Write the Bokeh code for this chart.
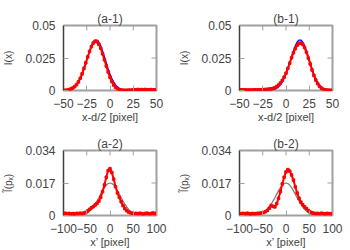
from math import pi
from bokeh.plotting import figure
from bokeh.layouts import gridplot
from bokeh.models import Range1d, FixedTicker
from bokeh.embed import file_html
from bokeh.resources import INLINE

# ---------------- data ----------------
x_top = list(range(-50, 51, 2))
x_bot = list(range(-100, 101, 4))

a1_theory = [0.0001, 0.0001, 0.0003, 0.0006, 0.0010, 0.0017, 0.0028, 0.0043, 0.0064, 0.0092,
             0.0127, 0.0168, 0.0214, 0.0260, 0.0305, 0.0344, 0.0373, 0.0388, 0.0388, 0.0373,
             0.0344, 0.0305, 0.0260, 0.0214, 0.0168, 0.0127, 0.0092, 0.0064, 0.0043, 0.0028,
             0.0017, 0.0010, 0.0006, 0.0003, 0.0001, 0, 0, 0, 0, 0,
             0, 0, 0, 0, 0, 0, 0, 0, 0, 0, 0]
a1_data = [0.0002, 0.0001, 0.0003, 0.0007, 0.0012, 0.0019, 0.0030, 0.0045, 0.0066, 0.0094,
           0.0128, 0.0170, 0.0213, 0.0258, 0.0300, 0.0338, 0.0365, 0.0378, 0.0375, 0.0356,
           0.0325, 0.0282, 0.0236, 0.0188, 0.0143, 0.0102, 0.0068, 0.0042, 0.0024, 0.0012,
           0.0006, 0.0003, 0.0002, 0.0002, 0.0001, 0.0003, 0.0002, 0.0004, 0.0006, 0.0005,
           0.0008, 0.0006, 0.0007, 0.0005, 0.0008, 0.0006, 0.0005, 0.0007, 0.0004, 0.0005, 0.0003]
b1_theory = [0, 0, 0, 0, 0, 0, 0, 0, 0, 0,
             0, 0, 0, 0, 0, 0, 0.0001, 0.0003, 0.0006, 0.0010,
             0.0017, 0.0028, 0.0043, 0.0064, 0.0092, 0.0127, 0.0168, 0.0214, 0.0260, 0.0305,
             0.0344, 0.0373, 0.0388, 0.0388, 0.0373, 0.0344, 0.0305, 0.0260, 0.0214, 0.0168,
             0.0127, 0.0092, 0.0064, 0.0043, 0.0028, 0.0017, 0.0010, 0.0006, 0.0003, 0.0001, 0.0001]
b1_data = [0.0005, 0.0006, 0.0004, 0.0005, 0.0003, 0.0004, 0.0003, 0.0004, 0.0005, 0.0004,
           0.0005, 0.0006, 0.0005, 0.0007, 0.0008, 0.0009, 0.0011, 0.0013, 0.0016, 0.0022,
           0.0030, 0.0042, 0.0058, 0.0078, 0.0103, 0.0133, 0.0170, 0.0210, 0.0252, 0.0290,
           0.0323, 0.0348, 0.0362, 0.0365, 0.0354, 0.0330, 0.0294, 0.0250, 0.0204, 0.0158,
           0.0116, 0.0081, 0.0053, 0.0032, 0.0018, 0.0009, 0.0005, 0.0003, 0.0002, 0.0002, 0.0001]

p_theory = [0, 0, 0, 0, 0, 0, 0, 0, 0.0001, 0.0002,
            0.0004, 0.0006, 0.0010, 0.0015, 0.0023, 0.0032, 0.0045, 0.0059, 0.0075, 0.0093,
            0.0112, 0.0130, 0.0146, 0.0159, 0.0167, 0.0170, 0.0167, 0.0159, 0.0146, 0.0130,
            0.0112, 0.0093, 0.0075, 0.0059, 0.0045, 0.0032, 0.0023, 0.0015, 0.0010, 0.0006,
            0.0004, 0.0002, 0.0001, 0, 0, 0, 0, 0, 0, 0, 0]
a2_data = [0.0010, 0.0012, 0.0008, 0.0011, 0.0009, 0.0010, 0.0008, 0.0011, 0.0010, 0.0012,
           0.0010, 0.0013, 0.0016, 0.0024, 0.0032, 0.0040, 0.0046, 0.0055, 0.0063, 0.0075,
           0.0095, 0.0125, 0.0160, 0.0200, 0.0235, 0.0245, 0.0225, 0.0190, 0.0150, 0.0118,
           0.0095, 0.0072, 0.0052, 0.0036, 0.0025, 0.0018, 0.0014, 0.0012, 0.0010, 0.0011,
           0.0009, 0.0012, 0.0010, 0.0008, 0.0011, 0.0012, 0.0009, 0.0010, 0.0013, 0.0011, 0.0010]
b2_data = [0.0008, 0.0010, 0.0011, 0.0009, 0.0012, 0.0010, 0.0008, 0.0011, 0.0009, 0.0010,
           0.0011, 0.0012, 0.0014, 0.0016, 0.0020, 0.0027, 0.0038, 0.0052, 0.0048, 0.0045,
           0.0062, 0.0090, 0.0125, 0.0165, 0.0200, 0.0228, 0.0240, 0.0232, 0.0212, 0.0185,
           0.0150, 0.0118, 0.0090, 0.0070, 0.0056, 0.0045, 0.0036, 0.0026, 0.0018, 0.0014,
           0.0012, 0.0010, 0.0011, 0.0009, 0.0012, 0.0010, 0.0008, 0.0011, 0.0010, 0.0009, 0.0010]

top_xticks = [-50, -25, 0, 25, 50]
top_yticks = [0, 0.025, 0.05]
top_ylabels = ["0", "0.025", "0.05"]
bot_xticks = [-100, -50, 0, 50, 100]
bot_yticks = [0, 0.017, 0.034]
bot_ylabels = ["0", "0.017", "0.034"]

FONT = "Liberation Sans"
GRAY = "#a0a0a0"


def make(title, xr, yr, xticks, yticks, ylabels, xlabel, ylabel, br):
    p = figure(frame_width=93, frame_height=65, output_backend="svg", toolbar_location=None,
               x_range=Range1d(*xr), y_range=Range1d(*yr),
               min_border_left=62, min_border_right=br, min_border_top=25, min_border_bottom=35)
    p.title.text = title
    p.title.align = "center"
    p.title.text_font = FONT
    p.title.text_font_size = "12px"
    p.title.text_font_style = "normal"
    p.title.standoff = 0
    p.grid.visible = False
    p.outline_line_color = GRAY
    p.outline_line_width = 2
    p.background_fill_color = "white"
    p.border_fill_color = "white"

    p.xaxis.ticker = FixedTicker(ticks=xticks)
    p.yaxis.ticker = FixedTicker(ticks=yticks)
    p.yaxis.major_label_overrides = {t: l for t, l in zip(yticks, ylabels)}
    p.xaxis.axis_label = xlabel
    p.yaxis.axis_label = ylabel
    for ax in (p.xaxis[0], p.yaxis[0]):
        ax.major_tick_in = 5
        ax.major_tick_out = 0
        ax.major_tick_line_color = GRAY
        ax.minor_tick_line_color = None
        ax.major_label_text_font = FONT
        ax.major_label_text_font_size = "12px"
        ax.axis_label_text_font = FONT
        ax.axis_label_text_font_style = "normal"
    p.xaxis.axis_line_color = None
    p.yaxis.axis_line_color = "#404040"
    p.yaxis.axis_line_width = 1
    p.xaxis.axis_label_text_font_size = "11px"
    p.yaxis.axis_label_text_font_size = "10px"
    p.xaxis.major_label_standoff = 8
    p.xaxis.axis_label_standoff = 0
    p.yaxis.major_label_standoff = 8
    p.yaxis.axis_label_standoff = 8
    p.yaxis.major_label_orientation = "horizontal"

    # mirrored tick marks on the top and right edges of the frame
    p.ray(x=xticks, y=[yr[1]] * len(xticks), length=5, length_units="screen",
          angle=-pi / 2, line_color=GRAY, line_width=1)
    p.ray(x=[xr[1]] * len(yticks), y=yticks, length=5, length_units="screen",
          angle=pi, line_color=GRAY, line_width=1)
    return p


def add_series(p, x, theory, data, theory_color):
    p.line(x, theory, line_color=theory_color, line_width=1.3)
    p.line(x, data, line_color="#ff0000", line_width=2)
    p.scatter(x, data, marker="square", size=2.5, fill_color="#ff0000", line_color="#ff0000")


pa1 = make("(a-1)", (-50, 50), (0, 0.05), top_xticks, top_yticks, top_ylabels,
           "x-d/2 [pixel]", "I(x)", 20)
add_series(pa1, x_top, a1_theory, a1_data, "#0000ff")
pb1 = make("(b-1)", (-50, 50), (0, 0.05), top_xticks, top_yticks, top_ylabels,
           "x-d/2 [pixel]", "I(x)", 20)
add_series(pb1, x_top, b1_theory, b1_data, "#0000ff")
pa2 = make("(a-2)", (-100, 100), (0, 0.034), bot_xticks, bot_yticks, bot_ylabels,
           "x\u2019 [pixel]", "\u0128(p\u2093)", 20)
add_series(pa2, x_bot, p_theory, a2_data, "#808080")
pb2 = make("(b-2)", (-100, 100), (0, 0.034), bot_xticks, bot_yticks, bot_ylabels,
           "x\u2019 [pixel]", "\u0128(p\u2093)", 20)
add_series(pb2, x_bot, p_theory, b2_data, "#808080")

grid = gridplot([[pa1, pb1], [pa2, pb2]], toolbar_location=None)

open("out.html", "w").write(file_html(grid, INLINE))
